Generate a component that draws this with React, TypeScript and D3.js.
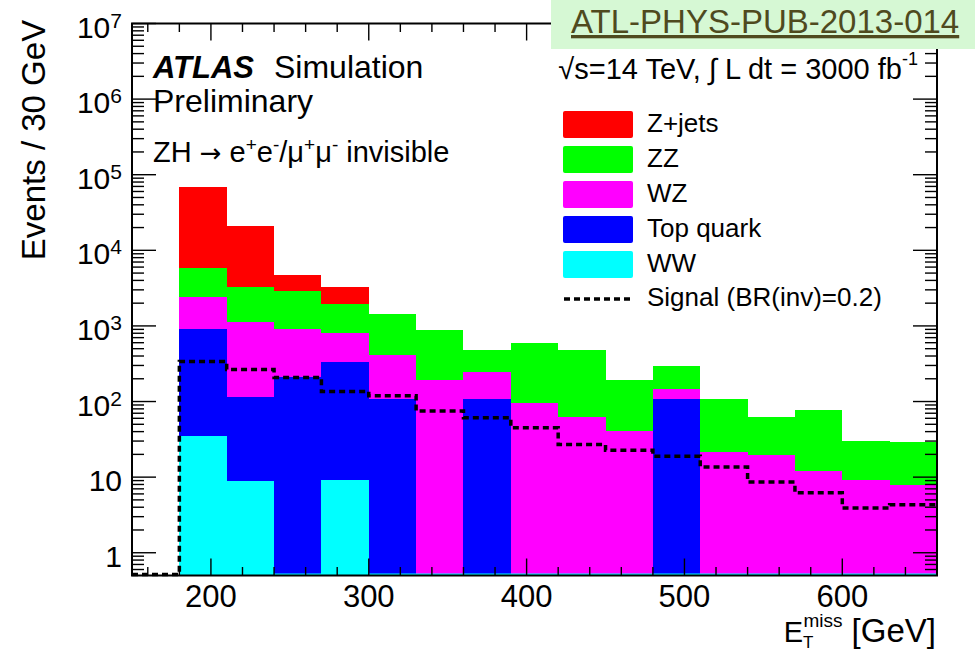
import React, { useEffect, useRef } from 'react';
import * as d3 from 'd3';

// lower edges of the 30 GeV bins
const binLow = [150, 180, 210, 240, 270, 300, 330, 360, 390, 420, 450, 480, 510, 540, 570, 600, 630];
const binWidth = 30;

// per-process event counts (stacked bottom -> top: WW, Top, WZ, ZZ, Z+jets)
const wwEvents = [0, 35, 8.9, 0, 9.1, 0, 0, 0, 0, 0, 0, 0, 0, 0, 0, 0, 0];
const topEvents = [0, 883, 107, 212, 329, 108, 0, 108, 0, 0, 0, 108, 0, 0, 0, 0, 0];
const wzEvents = [0, 1467, 1021, 706, 458, 308, 192, 139, 97, 63, 41, 38, 21.4, 19.7, 12.1, 9.2, 7.8];
const zzEvents = [0, 3515, 2168, 1982, 1174, 1036, 690, 237, 506, 411, 151, 151, 86.6, 42.4, 65.5, 21.2, 21.2];
const zjetsEvents = [0, 63900, 17500, 1820, 1335, 0, 0, 0, 0, 0, 0, 0, 0, 0, 0, 0, 0];
const signalEvents = [0, 338, 265, 208, 136, 119, 75, 61, 45, 27, 22.7, 18.9, 13.6, 8.6, 6.2, 3.9, 4.3];

const stackKeys = ['WW', 'Top quark', 'WZ', 'ZZ', 'Z+jets'];
const legendKeys = ['Z+jets', 'ZZ', 'WZ', 'Top quark', 'WW'];
const colors: Record<string, string> = {
  'Z+jets': '#ff0000',
  'ZZ': '#00ff00',
  'WZ': '#ff00ff',
  'Top quark': '#0000ff',
  'WW': '#00ffff',
};

const yDecades = [0, 1, 2, 3, 4, 5, 6, 7];
const xMajorTicks = [200, 300, 400, 500, 600];

const FONT = '"Liberation Sans", Arial, Helvetica, sans-serif';

const App: React.FC = () => {
  const svgRef = useRef<SVGSVGElement>(null);

  useEffect(() => {
    if (!svgRef.current) return;
    const svg = d3.select(svgRef.current);
    svg.selectAll('*').remove();

    const left = 132, right = 937, top = 23.5, bottom = 575.5;
    const yMin = 0.5, yMax = 1e7;

    const x = d3.scaleLinear().domain([150, 660]).range([left, right]);
    const y = d3.scaleLog().domain([yMin, yMax]).range([bottom, top]);
    const yv = (v: number) => y(Math.max(v, yMin));

    svg.append('rect').attr('width', 975).attr('height', 650).attr('fill', '#fff');

    // stacked histogram
    const rows = binLow.map((lo, i) => ({
      lo,
      'WW': wwEvents[i],
      'Top quark': topEvents[i],
      'WZ': wzEvents[i],
      'ZZ': zzEvents[i],
      'Z+jets': zjetsEvents[i],
    }));
    const series = d3.stack<any>().keys(stackKeys)(rows);

    const plot = svg.append('g').attr('shape-rendering', 'crispEdges');
    series.forEach(s => {
      plot.selectAll(null)
        .data(s.filter(d => d[1] > d[0]))
        .enter()
        .append('rect')
        .attr('x', d => x(d.data.lo))
        .attr('width', d => x(d.data.lo + binWidth) - x(d.data.lo))
        .attr('y', d => yv(d[1]))
        .attr('height', d => yv(d[0]) - yv(d[1]))
        .attr('fill', colors[s.key]);
    });

    // zero-content line of the last drawn histogram
    svg.append('line')
      .attr('x1', x(180)).attr('x2', x(660))
      .attr('y1', bottom - 1).attr('y2', bottom - 1)
      .attr('stroke', '#00ffff').attr('stroke-width', 2);

    // signal step line
    const sigPts: [number, number][] = binLow.map((lo, i) => [lo, signalEvents[i]]);
    sigPts.push([binLow[binLow.length - 1] + binWidth, signalEvents[signalEvents.length - 1]]);
    const sigLine = d3.line<[number, number]>()
      .x(d => x(d[0]))
      .y(d => Math.min(yv(d[1]), bottom - 1))
      .curve(d3.curveStepAfter);
    svg.append('path')
      .attr('d', sigLine(sigPts) as string)
      .attr('fill', 'none')
      .attr('stroke', '#000')
      .attr('stroke-width', 3.5)
      .attr('stroke-dasharray', '6 4');

    // axes ticks
    const axes = svg.append('g').attr('stroke', '#000').attr('stroke-width', 1.4);
    const yMinor: number[] = [];
    [-1, 0, 1, 2, 3, 4, 5, 6].forEach(e => {
      for (let k = 2; k <= 9; k++) {
        const v = k * Math.pow(10, e);
        if (v > yMin && v < yMax) yMinor.push(v);
      }
    });
    yDecades.forEach(e => {
      const yy = y(Math.pow(10, e));
      axes.append('line').attr('x1', left).attr('x2', left + 24).attr('y1', yy).attr('y2', yy);
      axes.append('line').attr('x1', right).attr('x2', right - 24).attr('y1', yy).attr('y2', yy);
    });
    yMinor.forEach(v => {
      const yy = y(v);
      axes.append('line').attr('x1', left).attr('x2', left + 12).attr('y1', yy).attr('y2', yy);
      axes.append('line').attr('x1', right).attr('x2', right - 12).attr('y1', yy).attr('y2', yy);
    });
    const xMinor = d3.range(160, 661, 20).filter(v => !xMajorTicks.includes(v));
    xMajorTicks.forEach(v => {
      const xx = x(v);
      axes.append('line').attr('x1', xx).attr('x2', xx).attr('y1', bottom).attr('y2', bottom - 17);
      axes.append('line').attr('x1', xx).attr('x2', xx).attr('y1', top).attr('y2', top + 17);
    });
    xMinor.forEach(v => {
      const xx = x(v);
      axes.append('line').attr('x1', xx).attr('x2', xx).attr('y1', bottom).attr('y2', bottom - 8.5);
      axes.append('line').attr('x1', xx).attr('x2', xx).attr('y1', top).attr('y2', top + 8.5);
    });

    // frame
    svg.append('rect')
      .attr('x', left).attr('y', top)
      .attr('width', right - left).attr('height', bottom - top)
      .attr('fill', 'none').attr('stroke', '#000').attr('stroke-width', 2);

    const txt = svg.append('g').attr('font-family', FONT).attr('fill', '#000');

    // y tick labels
    yDecades.forEach(e => {
      const yy = y(Math.pow(10, e));
      const t = txt.append('text')
        .attr('x', 122).attr('y', yy + 14)
        .attr('text-anchor', 'end')
        .attr('font-size', 30);
      if (e === 0) t.text('1');
      else if (e === 1) t.text('10');
      else {
        t.append('tspan').text('10');
        t.append('tspan').attr('dy', -10).attr('font-size', 21).text(String(e));
      }
    });

    // x tick labels
    xMajorTicks.forEach(v => {
      txt.append('text')
        .attr('x', x(v)).attr('y', 607)
        .attr('text-anchor', 'middle')
        .attr('font-size', 31)
        .text(String(v));
    });

    // axis titles
    txt.append('text')
      .attr('transform', 'translate(45,140) rotate(-90)')
      .attr('text-anchor', 'middle')
      .attr('font-size', 33)
      .text('Events / 30 GeV');

    const xt = txt.append('text').attr('x', 936).attr('y', 642).attr('text-anchor', 'end').attr('font-size', 29);
    xt.append('tspan').text('E');
    xt.append('tspan').attr('font-size', 17).attr('dy', 6).text('T');
    xt.append('tspan').attr('font-size', 19).attr('dx', -10).attr('dy', -21).text('miss');
    xt.append('tspan').attr('dy', 15).attr('font-size', 33).text(' [GeV]');

    // ATLAS label
    txt.append('text')
      .attr('x', 153).attr('y', 78)
      .attr('font-size', 31).attr('font-weight', 'bold').attr('font-style', 'italic')
      .text('ATLAS');
    txt.append('text').attr('x', 274).attr('y', 78).attr('font-size', 32).text('Simulation');
    txt.append('text').attr('x', 153).attr('y', 112).attr('font-size', 32).text('Preliminary');

    const zh = txt.append('text').attr('x', 153).attr('y', 162).attr('font-size', 29);
    const zhParts: [string, boolean][] = [
      ['ZH ', false], ['\u2192', false], [' e', false], ['+', true], ['e', false], ['-', true],
      ['/\u03bc', false], ['+', true], ['\u03bc', false], ['-', true], [' invisible', false],
    ];
    zhParts.forEach(([s, sup], i) => {
      const prevSup = i > 0 && zhParts[i - 1][1];
      const ts = zh.append('tspan')
        .attr('dy', sup ? -11 : prevSup ? 11 : 0)
        .attr('font-size', sup ? 19 : 29)
        .text(s);
      if (s === '\u2192') ts.attr('font-family', '"DejaVu Sans", sans-serif').attr('font-size', 26);
    });

    // header
    const hdr = txt.append('text').attr('x', 918).attr('y', 79).attr('text-anchor', 'end').attr('font-size', 29);
    hdr.append('tspan').text('\u221as=14 TeV, \u222b L dt = 3000 fb');
    hdr.append('tspan').attr('dy', -14).attr('font-size', 18).text('-1');

    // legend
    const lg = svg.append('g');
    legendKeys.forEach((k, i) => {
      const yy = 111 + i * 35;
      lg.append('rect')
        .attr('x', 563).attr('y', yy)
        .attr('width', 70).attr('height', 27)
        .attr('rx', 2)
        .attr('fill', colors[k]);
      lg.append('text')
        .attr('x', 647).attr('y', yy + 21)
        .attr('font-family', FONT).attr('font-size', 26)
        .text(k);
    });
    lg.append('line')
      .attr('x1', 564).attr('x2', 633)
      .attr('y1', 299).attr('y2', 299)
      .attr('stroke', '#000').attr('stroke-width', 3.5)
      .attr('stroke-dasharray', '6 4');
    lg.append('text')
      .attr('x', 647).attr('y', 306)
      .attr('font-family', FONT).attr('font-size', 26)
      .text('Signal (BR(inv)=0.2)');

    // publication tag
    svg.append('rect')
      .attr('x', 551).attr('y', 0)
      .attr('width', 424).attr('height', 49)
      .attr('fill', '#d6f8d4');
    svg.append('text')
      .attr('x', 571).attr('y', 33)
      .attr('font-family', FONT).attr('font-size', 33)
      .attr('fill', '#4f4a1e')
      .attr('text-decoration', 'underline')
      .text('ATL-PHYS-PUB-2013-014');
  }, []);

  return (
    <svg
      ref={svgRef}
      width={975}
      height={650}
      style={{ position: 'absolute', left: 0, top: 0, display: 'block' }}
    />
  );
};

export default App;
